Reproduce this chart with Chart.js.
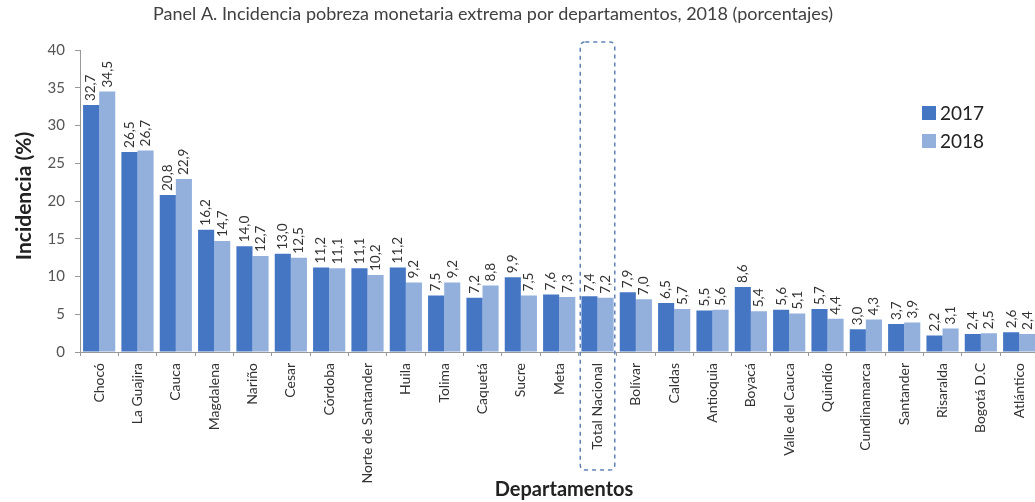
<!DOCTYPE html>
<html>
<head>
<meta charset="utf-8">
<script src="https://cdn.jsdelivr.net/npm/chart.js@4.4.0/dist/chart.umd.min.js"></script>
<style>
  html, body { margin: 0; padding: 0; background: #fff; overflow: hidden; }
  #wrap { position: absolute; left: 0; top: 0; width: 1043px; height: 502px; }
</style>
</head>
<body>
<div id="wrap"><canvas id="mycanvas1"></canvas></div>
<script>
var departamentos = ['Chocó','La Guajira','Cauca','Magdalena','Nariño','Cesar','Córdoba','Norte de Santander','Huila','Tolima','Caquetá','Sucre','Meta','Total Nacional','Bolívar','Caldas','Antioquia','Boyacá','Valle del Cauca','Quindío','Cundinamarca','Santander','Risaralda','Bogotá D.C','Atlántico'];
var inc2017 = [32.7,26.5,20.8,16.2,14.0,13.0,11.2,11.1,11.2,7.5,7.2,9.9,7.6,7.4,7.9,6.5,5.5,8.6,5.6,5.7,3.0,3.7,2.2,2.4,2.6];
var inc2018 = [34.5,26.7,22.9,14.7,12.7,12.5,11.1,10.2,9.2,9.2,8.8,7.5,7.3,7.2,7.0,5.7,5.6,5.4,5.1,4.4,4.3,3.9,3.1,2.5,2.4];
var yTicks = [0,5,10,15,20,25,30,35,40];
var resaltado = 'Total Nacional';

var titulo = 'Panel A. Incidencia pobreza monetaria extrema por departamentos, 2018 (porcentajes)';
var tituloY = 'Incidencia (%)';
var tituloX = 'Departamentos';

var fuente = 'Lato, "Open Sans", sans-serif';

// etiquetas, titulos, leyenda y recuadro
var extras = {
  id: 'extras',
  afterDatasetsDraw: function(chart) {
    var ctx = chart.ctx;
    ctx.save();
    ctx.fillStyle = '#333';
    ctx.font = '13.5px ' + fuente;
    ctx.textAlign = 'left';
    ctx.textBaseline = 'middle';
    chart.data.datasets.forEach(function(ds, i) {
      var meta = chart.getDatasetMeta(i);
      meta.data.forEach(function(bar, j) {
        ctx.save();
        ctx.translate(bar.x, bar.y - 4);
        ctx.rotate(-Math.PI / 2);
        ctx.fillText(ds.data[j].toFixed(1).replace('.', ','), 0, 0);
        ctx.restore();
      });
    });
    ctx.restore();
  },
  afterDraw: function(chart) {
    var ctx = chart.ctx;
    var area = chart.chartArea;
    var xs = chart.scales.x;
    ctx.save();

    // titulo
    ctx.fillStyle = '#404040';
    ctx.font = '18px ' + fuente;
    ctx.textAlign = 'center';
    ctx.textBaseline = 'middle';
    ctx.fillText(titulo, 493, 14);

    // titulos de ejes
    ctx.fillStyle = '#222';
    ctx.font = 'bold 21px ' + fuente;
    ctx.save();
    ctx.translate(24, 196);
    ctx.rotate(-Math.PI / 2);
    ctx.fillText(tituloY, 0, 0);
    ctx.restore();
    ctx.font = 'bold 20px ' + fuente;
    ctx.fillText(tituloX, 564, 490);

    // leyenda
    ctx.textAlign = 'left';
    ctx.font = '19px ' + fuente;
    chart.data.datasets.forEach(function(ds, i) {
      var y = 113 + i * 28;
      ctx.fillStyle = ds.backgroundColor;
      ctx.fillRect(922, y - 7, 14, 14);
      ctx.fillStyle = '#222';
      ctx.fillText(ds.label, 940, y + 1);
    });

    // recuadro Total Nacional
    var k = departamentos.indexOf(resaltado);
    var cw = xs.width / departamentos.length;
    var cx = xs.getPixelForValue(k);
    var x0 = cx - cw * 0.45, x1 = cx + cw * 0.45;
    var y0 = area.top - 8, y1 = 470, r = 5;
    ctx.strokeStyle = '#5f82b8';
    ctx.lineWidth = 1.5;
    ctx.setLineDash([4, 4]);
    ctx.beginPath();
    ctx.moveTo(x0 + r, y0);
    ctx.lineTo(x1 - r, y0);
    ctx.quadraticCurveTo(x1, y0, x1, y0 + r);
    ctx.lineTo(x1, y1 - r);
    ctx.quadraticCurveTo(x1, y1, x1 - r, y1);
    ctx.lineTo(x0 + r, y1);
    ctx.quadraticCurveTo(x0, y1, x0, y1 - r);
    ctx.lineTo(x0, y0 + r);
    ctx.quadraticCurveTo(x0, y0, x0 + r, y0);
    ctx.stroke();
    ctx.restore();
  }
};

var ctx = document.getElementById('mycanvas1');
new Chart(ctx, {
  type: 'bar',
  data: {
    labels: departamentos,
    datasets: [
      { label: '2017', data: inc2017, backgroundColor: '#4576c4', categoryPercentage: 0.84, barPercentage: 1.0 },
      { label: '2018', data: inc2018, backgroundColor: '#93b0dd', categoryPercentage: 0.84, barPercentage: 1.0 }
    ]
  },
  options: {
    responsive: true,
    maintainAspectRatio: false,
    animation: false,
    layout: { padding: { top: 50, left: 0, right: 0, bottom: 0 } },
    plugins: {
      legend: { display: false },
      title: { display: false },
      tooltip: { enabled: false }
    },
    scales: {
      x: {
        afterFit: function(scale) { scale.height = 150; },
        grid: { drawOnChartArea: false, drawTicks: true, tickLength: 4, color: '#999', offset: true },
        border: { color: '#999' },
        ticks: {
          minRotation: 90, maxRotation: 90, autoSkip: false,
          color: '#333', font: { family: fuente, size: 14 }, padding: 7
        }
      },
      y: {
        min: 0, max: 40,
        afterFit: function(scale) { scale.width = 80; },
        afterBuildTicks: function(scale) { scale.ticks = yTicks.map(function(v) { return { value: v }; }); },
        grid: { drawOnChartArea: false, drawTicks: true, tickLength: 5, color: '#999' },
        border: { color: '#999' },
        ticks: { color: '#555', font: { family: fuente, size: 15 }, padding: 10 }
      }
    }
  },
  plugins: [extras]
});
</script>
</body>
</html>
